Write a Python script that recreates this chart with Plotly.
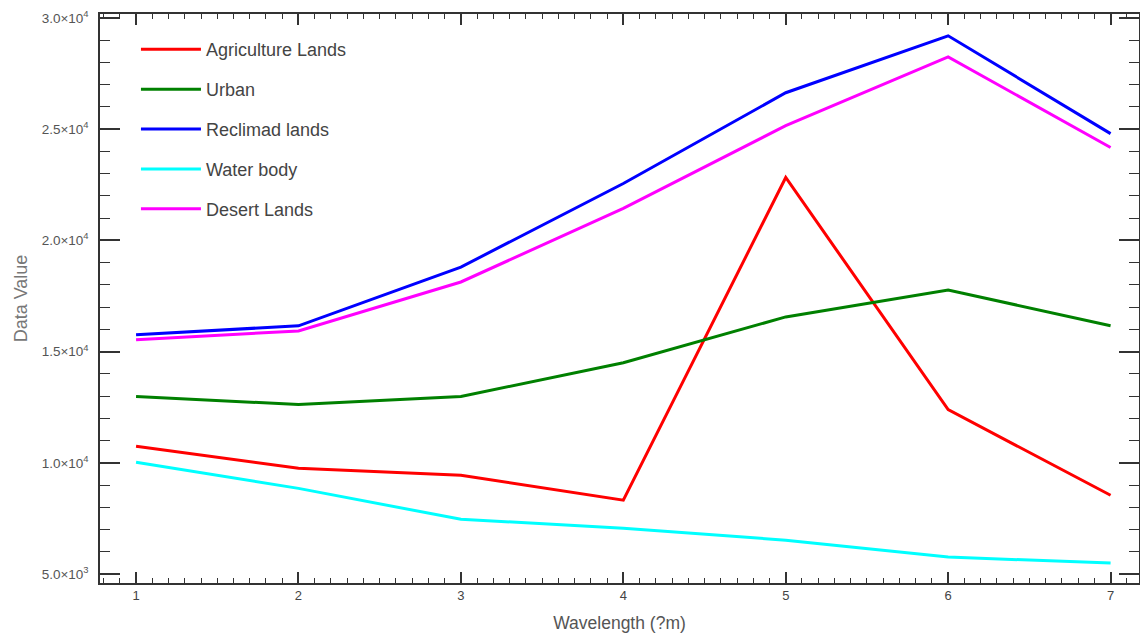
import plotly.graph_objects as go

wavelength = [1, 2, 3, 4, 5, 6, 7]
agriculture = [10740, 9750, 9440, 8320, 22830, 12390, 8540]
urban = [12980, 12620, 12980, 14500, 16560, 17770, 16160]
reclaimed = [15760, 16160, 18800, 22560, 26640, 29200, 24800]
water = [10020, 8850, 7460, 7060, 6520, 5760, 5490]
desert = [15530, 15930, 18130, 21440, 25160, 28250, 24180]

series_names = ["Agriculture Lands", "Urban", "Reclimad lands", "Water body", "Desert Lands"]
series_values = [agriculture, urban, reclaimed, water, desert]
series_colors = ["#ff0000", "#008000", "#0000ff", "#00ffff", "#ff00ff"]

y_tickvals = [5000, 10000, 15000, 20000, 25000, 30000]
y_ticktext = ["5.0×10<sup>3</sup>", "1.0×10<sup>4</sup>", "1.5×10<sup>4</sup>",
              "2.0×10<sup>4</sup>", "2.5×10<sup>4</sup>", "3.0×10<sup>4</sup>"]
x_tickvals = [1, 2, 3, 4, 5, 6, 7]

FONT = "Liberation Sans, Arial, sans-serif"

fig = go.Figure()
for i, (name, vals, col) in enumerate(zip(series_names, series_values, series_colors)):
    fig.add_trace(go.Scatter(
        x=wavelength, y=vals, mode="lines", name=name,
        line=dict(color=col, width=3), legendgroup=str(i),
    ))

axis_common = dict(
    showline=True, linecolor="#333333", linewidth=1.5, mirror="allticks",
    ticks="inside", tickcolor="#333333", tickwidth=1.5,
    showgrid=False, zeroline=False, automargin=False,
)

fig.update_xaxes(
    range=[0.778, 7.175], tickvals=x_tickvals, ticklen=11,
    tickfont=dict(family=FONT, size=13, color="#444444"),
    minor=dict(ticks="inside", dtick=0.1, ticklen=5, tickcolor="#333333", tickwidth=1.2),
    title=dict(text="Wavelength (?m)", standoff=14,
               font=dict(family=FONT, size=17.5, color="#555555")),
    **axis_common,
)
fig.update_yaxes(
    range=[4595, 30180], tickvals=y_tickvals, ticktext=y_ticktext, ticklen=20,
    ticklabelstandoff=7,
    tickfont=dict(family=FONT, size=13.5, color="#555555"),
    minor=dict(ticks="inside", dtick=1000, ticklen=10, tickcolor="#333333", tickwidth=1.2),
    title=dict(text="Data Value", standoff=9,
               font=dict(family=FONT, size=18, color="#777777")),
    **axis_common,
)

fig.update_layout(
    width=1140, height=634,
    margin=dict(l=100, r=1, t=14, b=51),
    paper_bgcolor="white", plot_bgcolor="white",
    showlegend=True,
    legend=dict(
        x=0.0346, y=0.970, xanchor="left", yanchor="top",
        bgcolor="rgba(0,0,0,0)", tracegroupgap=13.5, itemwidth=60,
        font=dict(family=FONT, size=18, color="#444444"),
    ),
)

fig.write_html(
    "out.html",
    config={"displayModeBar": False},
    post_script="document.body.style.margin='0';document.body.style.overflow='hidden';",
)
